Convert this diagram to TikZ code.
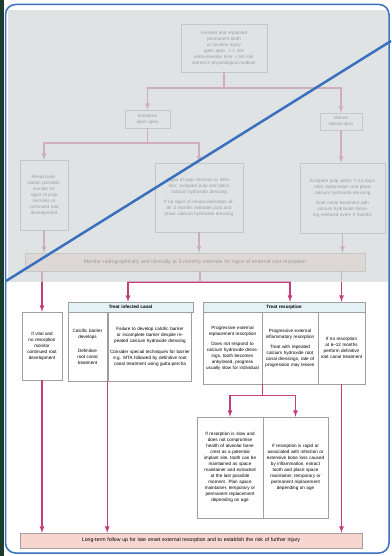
\documentclass[tikz,border=0pt]{standalone}
\usepackage{fontspec}
\setmainfont{Liberation Sans}
\usetikzlibrary{arrows,positioning}

\definecolor{linkpink}{RGB}{196,62,126}
\definecolor{headblue}{RGB}{228,241,245}
\definecolor{barpink}{RGB}{247,214,208}
\definecolor{fadegray}{RGB}{212,217,217}
\definecolor{framblue}{RGB}{58,112,190}
\definecolor{edgedark}{RGB}{30,60,45}

\begin{document}
\begin{tikzpicture}[x=1pt,y=-1pt,
            card/.style={draw=gray!75,fill=white,rectangle,align=center,inner sep=1.5pt,font=\fontsize{4.6}{6}\selectfont},
            head/.style={card,fill=headblue,font=\fontsize{4.6}{5}\selectfont\bfseries},
            bar/.style={card,fill=barpink,font=\fontsize{5.2}{6}\selectfont},
            link/.style={draw=linkpink,->,line width=1.2pt,>=latex}
          ]
          \useasboundingbox (0,0) rectangle (391,556);
          \fill[white] (0,0) rectangle (391,556);

          %upper part
          \node[card,text width=83pt,minimum height=48pt] (avulsed) at (224,48) {Avulsed and replanted\\ permanent tooth\\ or luxation injury\\ open apex $>$1 mm\\ extra-alveolar time $<$60 min\\ stored in physiological medium};
          \node[card,text width=42pt,minimum height=18pt] (openapex) at (147.5,119) {Immature\\ open apex};
          \node[card,text width=39pt,minimum height=17pt] (closedapex) at (341,121.5) {Mature\\ closed apex};
          \node[card,text width=45pt,minimum height=70pt] (revasc) at (44,195) {Revascular-\\isation possible:\\ monitor for\\ signs of pulp\\ necrosis or\\ continued root\\ development};
          \node[card,text width=85pt,minimum height=69pt] (necrosis) at (199,197.5) {Signs of pulp necrosis or infection: extirpate pulp and place calcium hydroxide dressing\\[4pt] If no signs of revascularisation after 3 months extirpate pulp and place calcium hydroxide dressing};
          \node[card,text width=82pt,minimum height=70pt] (extirpate) at (342.5,198) {Extirpate pulp within 7--10 days after replantation and place calcium hydroxide dressing\\[4pt] Root canal treatment with calcium hydroxide dressing renewed every 3 months};
          \node[bar,text width=337pt,minimum height=18pt] (monitor) at (195,262) {Monitor radiographically and clinically at 3-monthly intervals for signs of external root resorption};

          \draw[link] (avulsed.south) -- (avulsed.south |- 0,88) -| (openapex.north);
          \draw[link] (avulsed.south) -- (avulsed.south |- 0,88) -| (closedapex.north);
          \draw[link] (openapex.south) -- (openapex.south |- 0,143) -| (revasc.north);
          \draw[link] (openapex.south) -- (openapex.south |- 0,143) -| (necrosis.north);
          \draw[link] (closedapex.south) -- (closedapex.south |- extirpate.north);
          \draw[link] (revasc.south) -- (revasc.south |- monitor.north);
          \draw[link] (necrosis.south) -- (necrosis.south |- monitor.north);
          \draw[link] (extirpate.south) -- (extirpate.south |- monitor.north);

          %lower part
          \node[card,text width=37pt,minimum height=68pt] (vital) at (42,346) {If vital and\\ no resorption\\ monitor\\ continued root\\ development};
          \node[head,text width=122pt,minimum height=10pt] (infhead) at (130.5,307) {Treat infected canal};
          \node[card,text width=36pt,minimum height=69pt] (barrier) at (87.5,346.5) {Calcific barrier\\ develops\\[8pt] Definitive\\ root canal\\ treatment};
          \node[card,text width=80pt,minimum height=69pt] (nobarrier) at (150,346.5) {Failure to develop calcific barrier or incomplete barrier despite repeated calcium hydroxide dressing\\[5pt] Consider special techniques for barrier e.g. MTA followed by definitive root canal treatment using gutta-percha};
          \node[head,text width=159pt,minimum height=10pt] (reshead) at (284,307) {Treat resorption};
          \node[card,text width=56pt,minimum height=72pt] (replace) at (232.5,348) {Progressive external replacement resorption\\[4pt] Does not respond to calcium hydroxide dressings, tooth becomes ankylosed, progress usually slow for individual};
          \node[card,text width=53pt,minimum height=72pt] (inflam) at (290,348) {Progressive external inflammatory resorption\\[4pt] Treat with repeated calcium hydroxide root canal dressings, rate of progression may lessen};
          \node[card,text width=44pt,minimum height=72pt] (noresorp) at (341.5,348) {If no resorption at 6--12 months perform definitive root canal treatment};
          \node[card,text width=63pt,minimum height=101pt] (slow) at (230,467.5) {\parbox{54pt}{\centering If resorption is slow and does not compromise health of alveolar bone crest as a potential implant site, tooth can be maintained as space maintainer and extracted at the last possible moment. Plan space maintainer, temporary or permanent replacement depending on age}};
          \node[card,text width=62pt,minimum height=101pt] (rapid) at (295.5,467.5) {\parbox{58pt}{\centering If resorption is rapid or associated with infection or extensive bone loss caused by inflammation, extract tooth and place space maintainer, temporary or permanent replacement depending on age}};
          \node[bar,text width=339pt,minimum height=15pt] (followup) at (191,540.5) {Long-term follow up for late onset external resorption and to establish the risk of further injury};

          \coordinate (split) at (200,282);
          \draw[link] (monitor.south -| split) -- (split) -| ([xshift=-2.5pt]infhead.north);
          \draw[link] (monitor.south -| split) -- (split) -| ([xshift=6pt]reshead.north);
          \draw[link] (monitor.south -| vital.north) -- (vital.north);
          \draw[link] (monitor.south -| noresorp.north) -- (noresorp.north |- reshead.north);
          \draw[link] (replace.south east) -- ++(0,11) -| (slow.north);
          \draw[link] (replace.south east) -- ++(0,11) -| (rapid.north);
          \draw[link] (vital.south) -- (vital.south |- followup.north);
          \draw[link] (barrier.south east) -- (barrier.south east |- followup.north);
          \draw[link] (noresorp.south) -- (noresorp.south |- followup.north);

          %faded top of the page, frame and marker line
          \fill[fadegray,opacity=0.72] (8,10) rectangle (388,282);
          \fill[edgedark] (0,0) rectangle (3.5,556);
          \draw[framblue,line width=1.5pt,rounded corners=10pt] (5.5,4.5) rectangle (389,553);
          \draw[framblue,line width=2.5pt] (391,41) -- (6,281);
      \end{tikzpicture}
\end{document}
